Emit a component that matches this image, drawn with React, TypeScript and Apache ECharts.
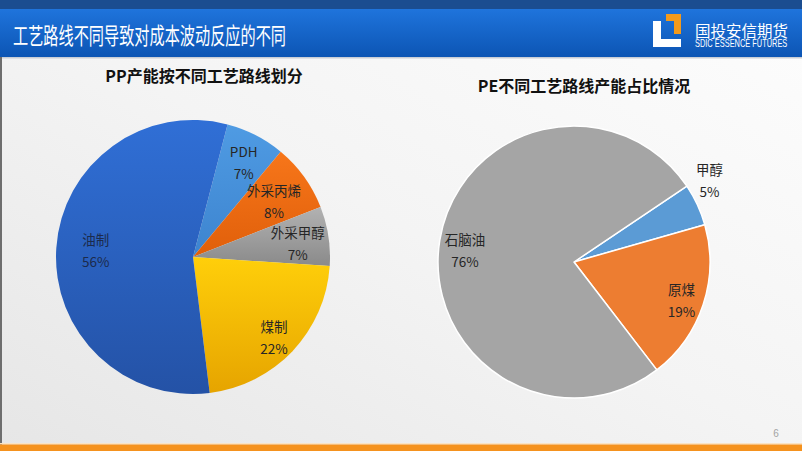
import React, { useEffect, useRef } from 'react';
import * as echarts from 'echarts';

const pageTitle = '工艺路线不同导致对成本波动反应的不同';
const logoName = '国投安信期货';
const logoEnglish = 'SDIC ESSENCE FUTURES';
const pageNumber = '6';

const ppTitle = 'PP产能按不同工艺路线划分';
const ppCategories = ['PDH', '外采丙烯', '外采甲醇', '煤制', '油制'];
const ppValues = [7, 8, 7, 22, 56];

const peTitle = 'PE不同工艺路线产能占比情况';
const peCategories = ['甲醇', '原煤', '石脑油'];
const peValues = [5, 19, 76];

// styling (not data)
const ppColors = [
  ['#4f9be3', '#3d84cf'],
  ['#f7761a', '#e05f0a'],
  ['#b2b2b2', '#8a8a8a'],
  ['#ffcf0a', '#e6a400'],
  ['#306fd6', '#2452a6'],
];
const ppLabelOffsets = [[18, -31], [23, -14], [34, -3], [29, 31], [-26, -2]];
const peColors = ['#5b9bd5', '#ed7d31', '#a5a5a5'];
const peLabelOffsets = [[71, -52], [40, 16], [-39, -1]];

const CJK = '"Noto Sans CJK SC", "Microsoft YaHei", sans-serif';

function grad(c: string[]) {
  return {
    type: 'linear', x: 0, y: 0, x2: 0, y2: 1,
    colorStops: [{ offset: 0, color: c[0] }, { offset: 1, color: c[1] }],
  };
}

export default function App() {
  const ref = useRef<HTMLDivElement>(null);
  useEffect(() => {
    document.body.style.margin = '0';
    const chart = echarts.init(ref.current!, null, { renderer: 'svg' });
    const labelBase = {
      show: true,
      position: 'inside',
      formatter: '{b}\n{c}%',
      fontSize: 13.5,
      lineHeight: 22,
      fontFamily: CJK,
      color: '#262626',
    };
    chart.setOption({
      animation: false,
      graphic: [
        {
          type: 'rect', z: -10, silent: true,
          shape: { x: 0, y: 0, width: 802, height: 451 },
          style: {
            fill: {
              type: 'linear', x: 1, y: 0, x2: 0, y2: 1,
              colorStops: [{ offset: 0, color: '#fdfdfd' }, { offset: 0.5, color: '#f4f4f4' }, { offset: 1, color: '#e6e6e6' }],
            },
          },
        },
        { type: 'rect', z: -5, shape: { x: 0, y: 0, width: 802, height: 9 }, style: { fill: '#1b4d90' } },
        {
          type: 'rect', z: -5, shape: { x: 0, y: 9, width: 802, height: 48 },
          style: {
            fill: {
              type: 'linear', x: 0, y: 0, x2: 0, y2: 1,
              colorStops: [{ offset: 0, color: '#1f74dc' }, { offset: 1, color: '#0c55b4' }],
            },
          },
        },
        { type: 'rect', z: -5, shape: { x: 0, y: 57, width: 802, height: 1.5 }, style: { fill: '#c9ced6' } },
        { type: 'rect', z: -5, shape: { x: 0, y: 57, width: 2, height: 388 }, style: { fill: '#6e6e6e' } },
        { type: 'rect', z: -5, shape: { x: 0, y: 443, width: 802, height: 1.5 }, style: { fill: '#fbe3c3' } },
        { type: 'rect', z: -5, shape: { x: 0, y: 444.5, width: 802, height: 6.5 }, style: { fill: '#f5921e' } },
        {
          type: 'text', x: 13, y: 34, scaleX: 0.66,
          style: { text: pageTitle, fill: '#ffffff', font: `23px ${CJK}`, align: 'left', verticalAlign: 'middle', textAlign: 'left', textVerticalAlign: 'middle' },
        },
        {
          type: 'polygon',
          shape: { points: [[653, 21], [661, 21], [661, 39], [681, 39], [681, 47], [653, 47]] },
          style: { fill: '#ffffff' },
        },
        {
          type: 'polygon',
          shape: { points: [[666, 14], [681, 14], [681, 34], [674, 34], [674, 21], [666, 21]] },
          style: { fill: '#f39a1c' },
        },
        {
          type: 'text', x: 695, y: 30,
          style: { text: logoName, fill: '#ffffff', font: `15.5px ${CJK}`, align: 'left', verticalAlign: 'middle', textAlign: 'left', textVerticalAlign: 'middle' },
        },
        {
          type: 'text', x: 695, y: 43.5, scaleX: 0.675,
          style: { text: logoEnglish, fill: '#ffffff', font: '11px "Liberation Sans", Arial, sans-serif', align: 'left', verticalAlign: 'middle', textAlign: 'left', textVerticalAlign: 'middle' },
        },
        {
          type: 'text', x: 204, y: 75,
          style: { text: ppTitle, fill: '#111111', font: `bold 16px ${CJK}`, align: 'center', verticalAlign: 'middle', textAlign: 'center', textVerticalAlign: 'middle' },
        },
        {
          type: 'text', x: 584, y: 85,
          style: { text: peTitle, fill: '#111111', font: `bold 16px ${CJK}`, align: 'center', verticalAlign: 'middle', textAlign: 'center', textVerticalAlign: 'middle' },
        },
        {
          type: 'text', x: 776, y: 433,
          style: { text: pageNumber, fill: '#a3a3a3', font: '10px "Liberation Sans", sans-serif', align: 'center', verticalAlign: 'middle', textAlign: 'center', textVerticalAlign: 'middle' },
        },
      ],
      series: [
        {
          type: 'pie',
          center: [193, 257],
          radius: [0, 137],
          startAngle: 75.4,
          clockwise: true,
          avoidLabelOverlap: false,
          labelLayout: { hideOverlap: false },
          labelLine: { show: false },
          itemStyle: { borderWidth: 0 },
          label: labelBase,
          data: ppCategories.map((name, i) => ({
            name,
            value: ppValues[i],
            itemStyle: { color: grad(ppColors[i]) },
            label: { offset: ppLabelOffsets[i], color: i === 4 ? '#1c2b4c' : '#262626' },
          })),
        },
        {
          type: 'pie',
          center: [574, 262],
          radius: [0, 136],
          startAngle: 33.9,
          clockwise: true,
          avoidLabelOverlap: false,
          labelLayout: { hideOverlap: false },
          labelLine: { show: false },
          itemStyle: { borderColor: '#ffffff', borderWidth: 1.5 },
          label: labelBase,
          data: peCategories.map((name, i) => ({
            name,
            value: peValues[i],
            itemStyle: { color: peColors[i] },
            label: { offset: peLabelOffsets[i] },
          })),
        },
      ],
    });
    return () => chart.dispose();
  }, []);
  return <div ref={ref} style={{ position: 'absolute', left: 0, top: 0, width: 802, height: 451 }} />;
}
